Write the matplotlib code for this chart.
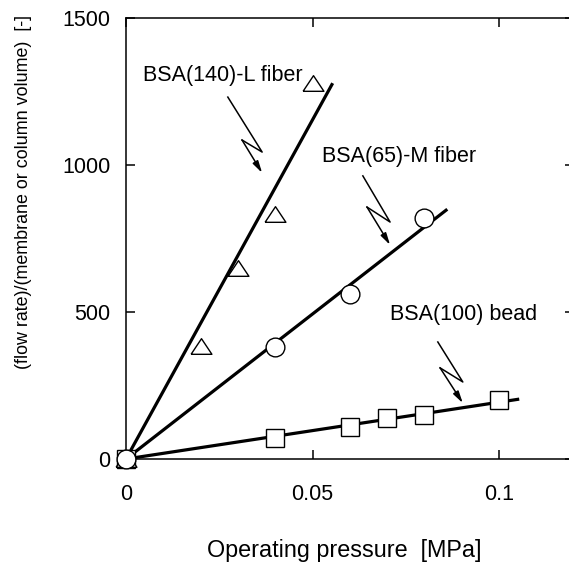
import matplotlib
matplotlib.use("Agg")
import matplotlib.pyplot as plt
import numpy as np

plt.rcParams['font.family'] = ['Liberation Sans', 'DejaVu Sans']

# data
x_140L = [0.0, 0.02, 0.03, 0.04, 0.05]
y_140L = [0, 384, 650, 835, 1280]
x_65M = [0.0, 0.04, 0.06, 0.08]
y_65M = [0, 380, 560, 820]
x_bead = [0.0, 0.04, 0.06, 0.07, 0.08, 0.10]
y_bead = [0, 70, 110, 140, 150, 200]

# how far each fitted line is drawn
line_end = [0.0552, 0.0858, 0.105]

labels = ["BSA(140)-L fiber", "BSA(65)-M fiber", "BSA(100) bead"]
label_pos = [(0.0046, 1306), (0.0525, 1030), (0.0708, 493)]

# zigzag arrows: start, kink, back, tip
arrows = [
    [(0.0273, 1231), (0.0365, 1044), (0.0311, 1085), (0.0365, 973)],
    [(0.0635, 963), (0.0708, 806), (0.0646, 857), (0.0708, 728)],
    [(0.0836, 398), (0.0903, 262), (0.0842, 310), (0.0903, 190)],
]

fig = plt.figure(figsize=(5.69, 5.67), dpi=100)
ax = fig.add_axes([126 / 569, 1 - 459 / 567, 447.6 / 569, 441 / 567])

tri = [(-1, -0.75), (1, -0.75), (0, 0.75), (-1, -0.75)]
series = [(x_140L, y_140L, tri, 15), (x_65M, y_65M, 'o', 13.5), (x_bead, y_bead, 's', 13)]

# fitted lines through origin
for (xs, ys, m, ms), xe in zip(series, line_end):
    xs = np.array(xs)
    ys = np.array(ys)
    k = np.sum(xs * ys) / np.sum(xs ** 2)
    ax.plot([0, xe], [0, k * xe], color='black', lw=2.3, zorder=2)

# markers (bead square first, circle on top at origin)
for xs, ys, m, ms in [series[2], series[0], series[1]]:
    ax.plot(xs, ys, linestyle='none', marker=m, markersize=ms,
            markerfacecolor='white', markeredgecolor='black',
            markeredgewidth=1.0, zorder=3, clip_on=False)

for lab, (lx, ly) in zip(labels, label_pos):
    ax.text(lx, ly, lab, fontsize=15.5, ha='left', va='center')

for pts in arrows:
    px = [p[0] for p in pts[:3]]
    py = [p[1] for p in pts[:3]]
    ax.plot(px, py, color='black', lw=1.1)
    ax.annotate('', xy=pts[3], xytext=pts[2],
                arrowprops=dict(arrowstyle='-|>,head_length=0.7,head_width=0.18',
                                color='black', lw=1.1, shrinkA=0, shrinkB=0))

ax.set_xlim(0, 0.12)
ax.set_ylim(0, 1500)
ax.set_xticks([0, 0.05, 0.1])
ax.set_xticklabels(['0', '0.05', '0.1'])
ax.set_yticks([0, 500, 1000, 1500])
ax.tick_params(direction='in', length=6.5, width=1.1, labelsize=15.5,
               top=True, right=True)
ax.tick_params(axis='x', pad=18)
ax.tick_params(axis='y', pad=11)
for s in ax.spines.values():
    s.set_linewidth(1.1)

fig.text(344 / 569, 1 - 551 / 567, "Operating pressure  [MPa]",
         fontsize=16.8, ha='center', va='center')
fig.text(24 / 569, 1 - 192 / 567, "(flow rate)/(membrane or column volume)  [-]",
         fontsize=12.9, ha='center', va='center', rotation=90)

fig.savefig('out.png', dpi=100)
